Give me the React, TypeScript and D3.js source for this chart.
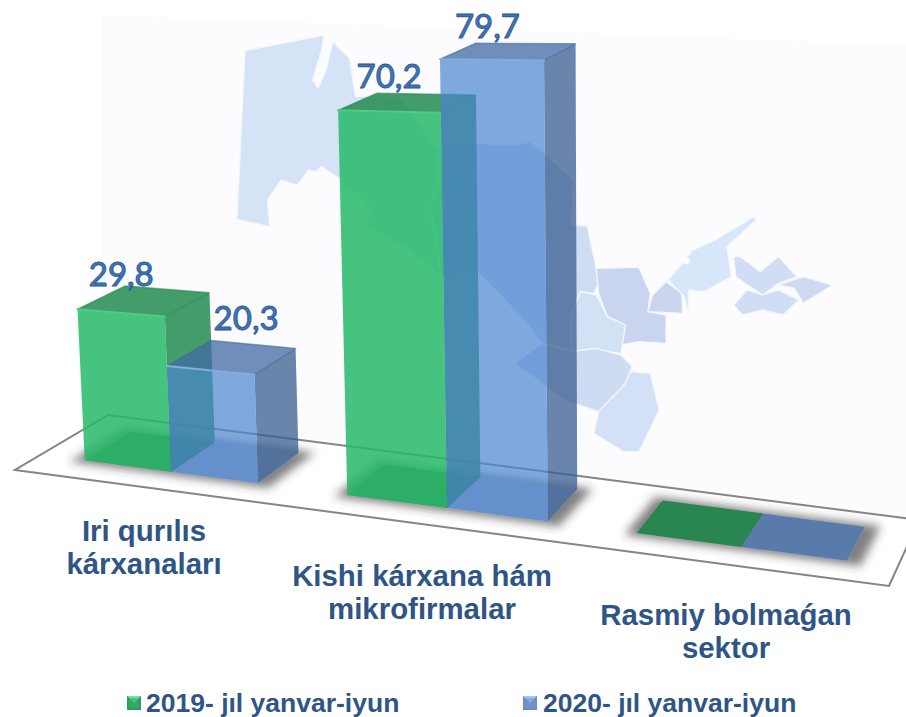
import React from "react";
import * as d3 from "d3";

const categories = ["Iri qurılıs|kárxanaları", "Kishi kárxana hám|mikrofirmalar", "Rasmiy bolmaǵan|sektor"];
const seriesNames = ["2019- jıl yanvar-iyun", "2020- jıl yanvar-iyun"];
const values2019 = [29.8, 70.2, 0];
const values2020 = [20.3, 79.7, 0];
const valueLabels2019 = ["29,8", "70,2", ""];
const valueLabels2020 = ["20,3", "79,7", ""];

// Decorative background map, traced in a 2.22x / 3x crop of the picture
const mapRegions: { fill: string; pts: [number, number][] }[] = [
  { fill: "#D5E3F7", pts: [[100,92],[275,45],[270,90],[250,180],[262,205],[280,150],[295,65],[332,115],[345,230],[405,225],[450,240],[530,390],[530,500],[510,560],[530,690],[535,770],[470,690],[370,620],[380,570],[350,520],[315,510],[315,480],[270,440],[255,455],[240,450],[225,480],[215,495],[180,480],[165,510],[150,540],[155,620],[82,598]] },
  { fill: "#CFDDF3", pts: [[530,390],[610,370],[700,375],[735,365],[830,480],[825,615],[860,618],[880,745],[885,790],[875,820],[845,815],[825,880],[825,990],[760,970],[720,900],[620,760],[535,770],[530,690],[510,560],[530,500]] },
  { fill: "#C9D5EE", pts: [[880,745],[975,742],[990,790],[1000,820],[995,875],[1035,885],[1035,970],[975,965],[935,975],[945,915],[905,890],[885,820]] },
  { fill: "#D3E1F5", pts: [[845,815],[880,825],[905,890],[945,915],[935,1000],[905,995],[880,985],[825,995],[825,880]] },
  { fill: "#CEDBF2", pts: [[825,995],[880,985],[935,1005],[960,1040],[945,1090],[885,1175],[810,1140],[700,1030],[760,970]] },
  { fill: "#D3E0F5", pts: [[955,1055],[1000,1060],[1020,1170],[975,1295],[940,1295],[875,1240],[885,1175],[945,1090]] },
  { fill: "#CBD6EE", pts: [[1005,825],[1035,785],[1070,820],[1072,880],[995,875]] },
  { fill: "#D8E6F9", pts: [[1040,780],[1095,690],[1145,660],[1230,590],[1235,600],[1170,680],[1180,770],[1120,815],[1085,810],[1085,880],[1075,830]] },
  { fill: "#D0DDF4", pts: [[1185,710],[1200,710],[1245,755],[1270,725],[1285,710],[1325,770],[1285,790],[1250,825],[1210,790],[1190,770]] },
  { fill: "#CEDAF2", pts: [[1340,770],[1405,795],[1340,850],[1320,805],[1285,795]] },
  { fill: "#D0DDF4", pts: [[1215,810],[1250,825],[1285,810],[1330,840],[1295,885],[1250,870],[1205,885],[1185,855]] },
];

const mapX = d3.scaleLinear().domain([0, 1568]).range([200, 906]);
const mapY = d3.scaleLinear().domain([0, 1440]).range([20, 500]);

// Floor plane projection (unit square to screen quad)
const H = { a: 837.8, b: 101.55, c: 15, d: 92.15, e: -22.13, f: 470, g: -0.0407, h: 0.0792 };
const liftY = d3.scaleLinear().domain([0, 1]).range([5.0, 6.3]);
const liftX = d3.scaleLinear().domain([0, 1]).range([-0.26, 0.095]);
// foreshortening along the category axis
const uWarp = d3.scaleLinear()
  .domain([0, 0.05, 0.27, 0.385, 0.605, 0.72, 0.94, 1])
  .range([0, 0.053, 0.261, 0.367, 0.6015, 0.704, 0.9435, 1]);
const project = (uLogical: number, d: number, v = 0): [number, number] => {
  const u = uWarp(uLogical);
  const w = 1 + H.g * u + H.h * d;
  const x = (H.a * u + H.b * d + H.c) / w;
  const y = (H.d * u + H.e * d + H.f) / w;
  const dd = d - 0.27;
  return [x + (liftX(u) + 0.05 * dd) * v, y - (liftY(u) - 0.37 * dd) * v];
};

const catScale = d3.scaleBand<string>().domain(categories).range([0.05, 0.94]).paddingInner(0.343);
const serScale = d3.scaleBand<string>().domain(seriesNames).range([0, catScale.bandwidth()]);
const depthFront = 0.265;
const depthBack = 0.79;

const path = d3.line<[number, number]>();
const closed = (pts: [number, number][]) => (path(pts) ?? "") + "Z";

const palette = [
  { floor: "rgb(20,50,20)", floorA: 0.7, front: "#26BA68", frontA: 0.85, top: "#228B4F", topA: 0.85, side: "#228B4F", sideA: 0.85, edge: "#4FCB86" },
  { floor: "rgb(20,50,100)", floorA: 0.4, front: "#4A84D0", frontA: 0.7, top: "#406BA3", topA: 0.75, side: "#385D90", sideA: 0.75, edge: "#86ADE0" },
];
const labelOffsets = [
  [[-4, 0], [12, -5], [0, 0]],
  [[35, -10], [12, -5], [0, 0]],
];

const Bar = ({ u0, u1, v, s }: { u0: number; u1: number; v: number; s: number }) => {
  const c = palette[s];
  const P = (u: number, d: number, val = 0) => project(u, d, val);
  return (
    <g>
      <path d={closed([P(u0, depthFront), P(u1, depthFront), P(u1, depthBack), P(u0, depthBack)])} fill={c.floor} fillOpacity={c.floorA} />
      <path d={closed([P(u0, depthFront, v), P(u1, depthFront, v), P(u1, depthBack, v), P(u0, depthBack, v)])} fill={c.top} fillOpacity={c.topA} stroke={v > 0 ? c.top : "none"} strokeOpacity={0.6} strokeWidth={1.5} strokeLinejoin="round" />
      {v > 0 && (
        <>
          <path d={closed([P(u1, depthFront), P(u1, depthBack), P(u1, depthBack, v), P(u1, depthFront, v)])} fill={c.side} fillOpacity={c.sideA} />
          <path d={closed([P(u0, depthFront), P(u1, depthFront), P(u1, depthFront, v), P(u0, depthFront, v)])} fill={c.front} fillOpacity={c.frontA} />
          <path d={path([P(u0, depthFront, v), P(u1, depthFront, v)]) ?? ""} stroke={c.edge} strokeWidth={2} fill="none" strokeLinecap="round" />
        </>
      )}
    </g>
  );
};

const Swatch = ({ x, y, base, light, dark }: { x: number; y: number; base: string; light: string; dark: string }) => (
  <g>
    <rect x={x} y={y} width={14} height={14} fill={dark} />
    <path d={`M${x},${y}H${x + 14}L${x + 7},${y + 7}Z`} fill={light} />
    <rect x={x + 2} y={y + 2} width={10} height={10} fill={base} fillOpacity={0.65} />
  </g>
);

export default function App() {
  const series = [values2019, values2020];
  const seriesLabels = [valueLabels2019, valueLabels2020];
  const textFont = "'Liberation Sans', Arial, sans-serif";
  const floorQuad = [project(0, 0), project(1, 0), project(1, 1), project(0, 1)] as [number, number][];
  return (
    <svg width={906} height={717} viewBox="0 0 906 717" style={{ position: "absolute", left: 0, top: 0, display: "block", background: "#fff" }}>
      <defs>
        <filter id="blur" x="-30%" y="-50%" width="160%" height="200%">
          <feGaussianBlur stdDeviation={5} />
        </filter>
      </defs>
      <path d="M102,15L906,45V520L102,415Z" fill="#FCFCFE" />
      {mapRegions.map((r, i) => (
        <path
          key={i}
          d={closed(r.pts.map(([x, y]) => [mapX(x), mapY(y)] as [number, number]))}
          fill={r.fill}
          stroke="#F4F7FC"
          strokeWidth={1.3}
          strokeLinejoin="round"
        />
      ))}
      <circle cx={mapX(1080)} cy={mapY(722)} r={3.5} fill="#FBFCFE" />

      {categories.map((cat) => {
        const u0 = catScale(cat)! - 0.012;
        const u1 = catScale(cat)! + catScale.bandwidth() + 0.018;
        return (
          <path
            key={cat}
            d={closed([project(u0, depthFront - 0.05), project(u1, depthFront - 0.05), project(u1, depthBack + 0.04), project(u0, depthBack + 0.04)])}
            fill="#333"
            fillOpacity={0.62}
            filter="url(#blur)"
          />
        );
      })}
      {categories.map((cat) => {
        const u0 = catScale(cat)!;
        const u1 = u0 + catScale.bandwidth();
        return (
          <path
            key={cat}
            d={closed([project(u0, depthFront), project(u1, depthFront), project(u1, depthBack), project(u0, depthBack)])}
            fill="#fff"
          />
        );
      })}
      <path d={closed(floorQuad)} fill="none" stroke="#858585" strokeWidth={2} strokeLinejoin="miter" />

      {seriesNames.map((name, s) =>
        categories.map((cat, i) => {
          const u0 = catScale(cat)! + serScale(name)!;
          return <Bar key={cat + name} u0={u0} u1={u0 + serScale.bandwidth()} v={series[s][i]} s={s} />;
        })
      )}

      {seriesNames.map((name, s) =>
        categories.map((cat, i) => {
          if (!seriesLabels[s][i]) return null;
          const u0 = catScale(cat)! + serScale(name)!;
          const [x, y] = project(u0, depthBack, series[s][i]);
          const off = labelOffsets[s][i];
          return (
            <text
              key={cat + name}
              x={x + off[0]}
              y={y + off[1]}
              textAnchor="middle"
              fontFamily="Lato, sans-serif"
              fontWeight={500}
              fontSize={33}
              fill="#3F74B6"
              stroke="#2A5690"
              strokeWidth={0.8}
            >
              {seriesLabels[s][i]}
            </text>
          );
        })
      )}

      {categories.map((cat, i) => {
        const cx = [144, 422, 726][i];
        const y0 = [541, 586, 625][i];
        return cat.split("|").map((line, k) => (
          <text key={line} x={cx} y={y0 + k * 33} textAnchor="middle" fontFamily={textFont} fontWeight={700} fontSize={29.4} fill="#2F5587">
            {line}
          </text>
        ));
      })}

      <Swatch x={127} y={696} base="#35B06B" light="#7DDDA4" dark="#2E9B5E" />
      <text x={146} y={712} fontFamily={textFont} fontWeight={700} fontSize={26.5} fill="#2F5587">{seriesNames[0]}</text>
      <Swatch x={523} y={696} base="#6C9AD6" light="#A9C8F0" dark="#6F8DB8" />
      <text x={543} y={712} fontFamily={textFont} fontWeight={700} fontSize={26.5} fill="#2F5587">{seriesNames[1]}</text>
    </svg>
  );
}
